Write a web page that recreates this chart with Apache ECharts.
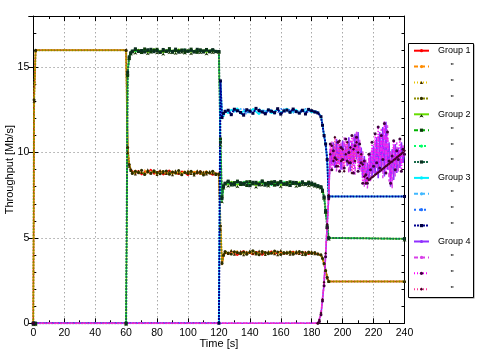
<!DOCTYPE html>
<html>
<head>
<meta charset="utf-8">
<title>Throughput</title>
<script src="https://cdn.jsdelivr.net/npm/echarts@6/dist/echarts.min.js"></script>
<style>
  html,body{margin:0;padding:0;background:#fff;}
  #chart{width:479px;height:350px;}
</style>
</head>
<body>
<div id="chart"></div>
<script>
(function(){
  // time bases [s]
  const T12 = [0,0.5,1.5,60,61,62,63,
    64,66,68,70,72,74,76,78,80,82,84,86,88,90,92,94,96,98,100,102,104,106,108,110,112,114,116,118,
    120,121,122,123,
    124,126,128,130,132,134,136,138,140,142,144,146,148,150,152,154,156,158,160,162,164,166,168,170,172,174,176,178,180,182,184,
    186,187,188,189,190,191,240];
  const T3 = [0,120,121,122,123,
    124,126,128,130,132,134,136,138,140,142,144,146,148,150,152,154,156,158,160,162,164,166,168,170,172,174,176,178,180,182,184,
    186,187,188,189,190,191,240];
  const T4 = [0,184,185,186,187,188,189,190,191,
    192,193,194,195,196,197,198,199,200,201,202,203,204,205,206,207,208,209,210,211,212,213,214,215,216,
    217,218,219,220,221,222,223,224,225,226,227,228,229,230,231,232,233,234,235,236,237,238,239,240];

  // Group 1 [Mb/s]
  const g1a = [0,13.1,16.0,16.0,10.2,9.3,9.0,
    8.92,8.78,8.95,8.70,8.88,8.81,9.02,8.74,8.86,8.93,8.69,8.84,8.97,8.77,8.85,8.72,8.91,8.80,8.66,8.89,8.83,8.75,8.94,8.71,8.82,8.78,8.68,8.80,
    8.75,5.6,3.5,3.95,
    4.18,4.05,4.22,4.10,3.98,4.15,4.25,4.08,4.12,4.02,4.20,4.14,3.99,4.17,4.11,4.23,4.06,4.13,4.19,4.04,4.16,4.09,4.21,4.07,4.14,4.11,4.18,4.03,4.15,4.10,4.06,
    4.0,3.8,3.5,3.1,2.7,2.45,2.45];
  const g1b = [0,12.8,16.0,16.0,10.4,9.4,9.05,
    8.80,8.97,8.73,8.86,8.99,8.72,8.85,8.90,8.68,8.83,8.96,8.75,8.81,8.92,8.70,8.87,8.79,8.95,8.84,8.73,8.90,8.86,8.71,8.83,8.93,8.74,8.81,8.76,
    8.8,5.8,3.4,3.9,
    4.07,4.20,4.01,4.16,4.24,4.03,4.13,4.19,4.00,4.21,4.09,4.15,4.26,4.05,4.18,4.02,4.14,4.22,4.08,4.17,4.04,4.23,4.11,4.16,4.01,4.19,4.08,4.21,4.05,4.12,4.02,
    3.95,3.75,3.45,3.05,2.7,2.45,2.45];
  const g1c = [0,13.0,16.0,16.0,10.0,9.2,8.95,
    8.86,8.74,8.91,8.83,8.76,9.00,8.79,8.88,8.72,8.95,8.82,8.78,8.90,8.70,8.94,8.81,8.75,8.87,8.92,8.77,8.69,8.93,8.80,8.86,8.74,8.89,8.79,8.72,
    8.7,5.5,3.6,4.0,
    4.14,4.09,4.27,4.04,4.13,4.20,4.01,4.17,4.23,4.10,4.06,4.24,4.12,4.03,4.21,4.15,4.08,4.02,4.26,4.11,4.19,4.05,4.14,4.22,4.09,4.03,4.16,4.13,4.20,4.07,4.11,
    4.05,3.85,3.5,3.1,2.65,2.45,2.45];
  const g1d = [0,13.1,16.0,16.0,10.3,9.3,9.0,
    8.77,8.90,8.82,8.96,8.71,8.87,8.80,8.93,8.84,8.76,8.89,8.92,8.73,8.86,8.81,8.95,8.70,8.84,8.78,8.91,8.76,8.82,8.88,8.69,8.85,8.80,8.90,8.74,
    8.75,5.7,3.5,4.0,
    4.21,4.12,4.06,4.19,4.15,4.08,4.18,4.04,4.16,4.25,4.13,4.01,4.20,4.14,4.07,4.11,4.24,4.17,4.03,4.15,4.10,4.18,4.05,4.12,4.20,4.16,4.02,4.17,4.09,4.14,4.05,
    4.0,3.8,3.5,3.1,2.7,2.45,2.45];

  // Group 2
  const g2a = [0,0,0,0,14.7,15.6,15.85,
    15.98,15.90,16.05,15.93,16.01,15.87,15.96,16.08,15.92,15.99,15.85,16.03,15.94,16.00,15.89,16.06,15.95,15.91,16.02,15.88,15.97,16.04,15.93,15.99,15.86,16.01,15.94,15.97,
    15.95,10.5,7.2,8.0,
    8.25,8.12,8.31,8.18,8.09,8.27,8.20,8.35,8.14,8.23,8.06,8.29,8.17,8.24,8.11,8.33,8.19,8.26,8.08,8.21,8.30,8.15,8.24,8.10,8.28,8.19,8.22,8.13,8.18,8.10,8.05,
    8.0,7.8,7.4,6.6,5.7,5.0,4.95];
  const g2b = [0,0,0,0,14.5,15.5,15.8,
    15.91,16.03,15.95,15.86,16.07,15.97,15.90,16.00,16.05,15.88,15.96,15.92,16.09,15.87,15.98,15.94,16.01,15.89,15.95,16.06,15.91,15.87,16.02,15.96,16.04,15.90,15.99,15.93,
    15.9,10.8,7.4,8.05,
    8.16,8.28,8.10,8.24,8.33,8.13,8.21,8.07,8.30,8.18,8.26,8.11,8.34,8.20,8.14,8.27,8.09,8.23,8.31,8.16,8.12,8.29,8.19,8.25,8.08,8.22,8.17,8.27,8.12,8.15,8.03,
    7.95,7.75,7.35,6.5,5.6,5.0,4.95];
  const g2c = [0,0,0,0,14.8,15.7,15.9,
    16.02,15.94,15.88,16.00,15.96,16.06,15.89,15.93,15.99,16.04,15.91,15.97,15.86,16.05,15.95,15.90,15.98,16.07,15.88,15.94,16.01,15.96,15.87,16.03,15.92,15.98,15.91,16.00,
    15.95,10.3,7.1,7.95,
    8.30,8.19,8.14,8.27,8.21,8.08,8.32,8.16,8.25,8.11,8.19,8.36,8.13,8.22,8.28,8.07,8.24,8.15,8.20,8.32,8.10,8.23,8.29,8.14,8.21,8.26,8.09,8.20,8.24,8.11,8.08,
    8.05,7.85,7.45,6.7,5.75,5.0,4.95];
  const g2d = [0,0,0,0,14.7,15.6,15.85,
    15.95,16.08,15.92,15.98,15.89,16.02,16.05,15.91,15.97,15.87,16.04,15.95,15.99,15.92,16.06,15.88,15.96,16.01,15.93,15.99,15.90,16.05,15.97,15.89,16.00,15.94,16.03,15.92,
    15.92,10.6,7.3,8.0,
    8.21,8.33,8.17,8.12,8.29,8.23,8.15,8.28,8.06,8.26,8.20,8.14,8.31,8.09,8.25,8.18,8.30,8.12,8.27,8.16,8.23,8.07,8.26,8.20,8.13,8.29,8.15,8.18,8.22,8.09,8.06,
    8.0,7.8,7.4,6.6,5.7,5.0,4.95];

  // Group 3
  const g3a = [0,0,14.2,12.3,12.1,
    12.45,12.30,12.52,12.38,12.61,12.27,12.44,12.50,12.33,12.57,12.40,12.24,12.48,12.36,12.55,12.29,12.43,12.51,12.35,12.46,12.58,12.32,12.41,12.53,12.28,12.47,12.39,12.56,12.34,12.44,12.37,
    12.1,11.6,11.0,10.5,9.6,7.43,7.43];
  const g3b = [0,0,13.9,12.4,12.2,
    12.36,12.55,12.29,12.47,12.34,12.58,12.41,12.26,12.53,12.38,12.49,12.62,12.31,12.45,12.37,12.54,12.25,12.48,12.40,12.57,12.33,12.46,12.30,12.51,12.42,12.35,12.59,12.38,12.49,12.30,12.40,
    12.15,11.7,11.1,10.4,9.5,7.43,7.43];
  const g3c = [0,0,14.0,12.2,12.3,
    12.50,12.39,12.44,12.60,12.31,12.42,12.55,12.37,12.28,12.49,12.56,12.35,12.43,12.52,12.26,12.47,12.39,12.32,12.58,12.41,12.36,12.54,12.45,12.29,12.50,12.43,12.37,12.48,12.33,12.52,12.35,
    12.05,11.55,10.9,10.6,9.7,7.43,7.43];
  const g3d = [0,0,14.2,12.05,12.3,
    12.41,12.48,12.22,12.54,12.45,12.35,12.19,12.51,12.43,12.30,12.59,12.46,12.38,12.27,12.50,12.42,12.33,12.57,12.25,12.44,12.49,12.36,12.55,12.40,12.31,12.48,12.26,12.53,12.45,12.38,12.32,
    12.1,11.6,11.0,10.5,9.6,7.43,7.43];

  // Group 4
  const g4a = [0,0,0.1,0.5,1.4,2.3,4.0,5.7,7.4,
    10.2,9.3,10.6,9.1,10.8,9.4,10.5,9.0,10.7,9.5,10.4,9.2,10.9,8.9,10.6,9.3,11.1,9.6,11.2,9.0,
    10.3,8.5,9.8,8.1,9.4,8.4,10.0,8.6,10.4,8.7,10.9,8.5,11.2,8.9,11.5,8.6,11.8,9.0,10.6,8.0,
    10.2,8.4,10.5,8.8,10.3,9.1,10.6,9.4,10.0];
  const g4b = [0,0,0.1,0.6,1.5,2.5,4.2,5.9,7.6,
    9.6,10.7,9.2,10.4,8.9,10.8,9.3,10.6,9.0,10.9,9.4,10.5,8.8,10.7,9.1,11.0,8.7,11.3,9.4,10.8,
    8.8,10.1,8.0,9.6,7.9,9.7,8.3,10.2,8.8,10.7,8.6,11.0,8.8,11.4,8.5,11.9,9.2,11.6,8.3,10.1,
    7.9,10.4,8.6,10.6,8.9,10.2,9.3,10.5,9.7];
  const g4c = [0,0,0.1,0.5,1.3,2.2,3.9,5.6,7.3,
    10.5,9.0,10.1,9.7,9.2,10.6,8.9,10.3,9.6,9.1,10.8,9.5,10.0,9.4,11.0,8.8,10.4,10.9,8.9,10.5,
    9.4,8.2,9.5,8.7,8.2,9.9,9.0,10.6,9.2,11.1,9.4,11.5,9.1,11.0,9.6,11.7,8.8,11.2,9.5,8.2,
    9.8,10.7,9.0,10.1,9.6,10.8,8.9,10.2,9.9];
  const g4d = [0,0,0.2,0.6,1.4,2.4,4.1,5.8,7.5,
    9.9,10.4,9.5,10.9,9.6,9.2,10.7,9.5,10.2,8.9,9.9,10.6,9.4,10.3,8.8,10.2,9.5,10.6,10.0,9.2,
    9.9,9.3,8.6,8.2,8.5,8.40,8.46,8.55,8.61,8.70,8.76,8.84,8.91,8.98,9.06,9.12,9.20,9.27,9.35,9.42,
    9.48,9.57,9.63,9.71,9.78,9.86,9.93,10.01,10.10];

  const seriesNames = ['Group 1','Group 1 #2','Group 1 #3','Group 1 #4',
    'Group 2','Group 2 #2','Group 2 #3','Group 2 #4',
    'Group 3','Group 3 #2','Group 3 #3','Group 3 #4',
    'Group 4','Group 4 #2','Group 4 #3','Group 4 #4'];
  const seriesTimes = [T12,T12,T12,T12, T12,T12,T12,T12, T3,T3,T3,T3, T4,T4,T4,T4];
  const seriesValues = [g1a,g1b,g1c,g1d, g2a,g2b,g2c,g2d, g3a,g3b,g3c,g3d, g4a,g4b,g4c,g4d];

  const FONT = 'Liberation Sans, Arial, Helvetica, sans-serif';
  const GRID_LINE = {color:'#a8a8a8', type:[1.5,2.5], width:1};

  // line style per series: color, dash, width, marker, marker color
  const looks = [
    {c:'#ff0000', t:'solid',  w:1.4, s:'none'},
    {c:'#ff8c00', t:[4,3],    w:1.2, s:'none'},
    {c:'#e8c400', t:[1,2],    w:1.6, s:'triangle', m:'#3b2a00'},
    {c:'#8c8c00', t:[2,1],    w:2,   s:'circle',   m:'#2e2e00'},
    {c:'#66dd00', t:'solid',  w:1.4, s:'arrow',    m:'#153300'},
    {c:'#00b400', t:[4,3],    w:1.2, s:'rect',     m:'#0b3a0b'},
    {c:'#00ff66', t:[2,3],    w:1.2, s:'none'},
    {c:'#1a6a4a', t:[2,1],    w:2,   s:'rect',     m:'#0b3020'},
    {c:'#00f0ff', t:'solid',  w:1.6, s:'none'},
    {c:'#40b8ff', t:[4,3],    w:1.2, s:'none'},
    {c:'#2070ff', t:[2,3],    w:1.2, s:'none'},
    {c:'#000090', t:[2,1],    w:2,   s:'rect',     m:'#000040'},
    {c:'#9030ff', t:'solid',  w:1.6, s:'none'},
    {c:'#d840e8', t:[4,3],    w:1.4, s:'none'},
    {c:'#ff00ff', t:[1,2],    w:1.4, s:'circle',   m:'#400040'},
    {c:'#ff3399', t:[1,2],    w:1.4, s:'diamond',  m:'#400020'}
  ];

  const toPairs = (ts, vs)=>ts.map((t,i)=>[t, vs[i]]);

  const series = seriesNames.map((name,i)=>{
    const lk = looks[i];
    return {
      name, type:'line', xAxisIndex:0, yAxisIndex:0,
      data: toPairs(seriesTimes[i], seriesValues[i]),
      symbol: lk.s, symbolSize: 3, showSymbol: lk.s!=='none',
      lineStyle:{color:lk.c, width:lk.w, type:lk.t},
      itemStyle:{color: lk.m || lk.c},
      emphasis:{disabled:true},
      animation:false
    };
  });

  const chart = echarts.init(document.getElementById('chart'), null, {renderer:'canvas'});
  chart.setOption({
    animation:false,
    textStyle:{fontFamily:FONT, color:'#000'},
    grid:{left:33.3, right:74.5, top:16, bottom:26.7, show:false, containLabel:false, outerBoundsMode:'none'},
    xAxis:[
      {type:'value', min:0, max:240, interval:20, position:'bottom',
        name:'Time [s]', nameLocation:'middle', nameGap:15, nameMoveOverlap:false,
        nameTextStyle:{fontSize:11, color:'#000', fontFamily:FONT},
        axisLine:{show:true, onZero:false, lineStyle:{color:'#000', width:1}},
        axisTick:{show:true, inside:true, length:5, lineStyle:{color:'#000'}},
        minorTick:{show:true, splitNumber:2, length:3, lineStyle:{color:'#000'}},
        axisLabel:{margin:4, fontSize:10.5, color:'#000', fontFamily:FONT},
        splitLine:{show:true, lineStyle:GRID_LINE}},
      {type:'value', min:0, max:240, interval:20, position:'top',
        axisLine:{show:true, onZero:false, lineStyle:{color:'#000', width:1}},
        axisTick:{show:true, inside:true, length:5, lineStyle:{color:'#000'}},
        minorTick:{show:true, splitNumber:2, length:3, lineStyle:{color:'#000'}},
        axisLabel:{show:false}, splitLine:{show:false}}
    ],
    yAxis:[
      {type:'value', min:0, max:18, interval:5, position:'left',
        name:'Throughput [Mb/s]', nameLocation:'middle', nameGap:18, nameRotate:90, nameMoveOverlap:false,
        nameTextStyle:{fontSize:11, color:'#000', fontFamily:FONT},
        axisLine:{show:true, onZero:false, lineStyle:{color:'#000', width:1}},
        axisTick:{show:true, inside:true, length:5, lineStyle:{color:'#000'}},
        axisLabel:{margin:4, fontSize:10.5, color:'#000', fontFamily:FONT, showMaxLabel:false},
        splitLine:{show:true, lineStyle:GRID_LINE}},
      {type:'value', min:0, max:18, interval:1, position:'left',
        axisLine:{show:false}, axisTick:{show:true, inside:true, length:3, lineStyle:{color:'#000'}},
        axisLabel:{show:false}, splitLine:{show:false}},
      {type:'value', min:0, max:18, interval:1, position:'right',
        axisLine:{show:true, onZero:false, lineStyle:{color:'#000', width:1}},
        axisTick:{show:true, inside:true, length:3, lineStyle:{color:'#000'}},
        axisLabel:{show:false}, splitLine:{show:false}},
      {type:'value', min:0, max:18, interval:5, position:'right',
        axisLine:{show:false}, axisTick:{show:true, inside:true, length:5, lineStyle:{color:'#000'}},
        axisLabel:{show:false}, splitLine:{show:false}}
    ],
    legend:{
      orient:'vertical', left:413, top:44.7, padding:0,
      itemWidth:15, itemHeight:4, itemGap:3.9, selectedMode:false,
      data: seriesNames,
      formatter: n => n.indexOf('#')>0 ? '{q|"}' : n,
      textStyle:{fontSize:9, fontFamily:FONT, color:'#000', lineHeight:12, padding:[0,0,0,4],
        rich:{q:{width:28, align:'center', fontSize:9, fontFamily:FONT, color:'#000'}}}
    },
    graphic:[
      {type:'rect', left:409.5, top:44.5, z:-1, shape:{width:65, height:254}, style:{fill:'#888'}},
      {type:'rect', left:408, top:43, z:0, shape:{width:65, height:254}, style:{fill:'#fff', stroke:'#000', lineWidth:1}}
    ],
    series
  });
})();
</script>
</body>
</html>
